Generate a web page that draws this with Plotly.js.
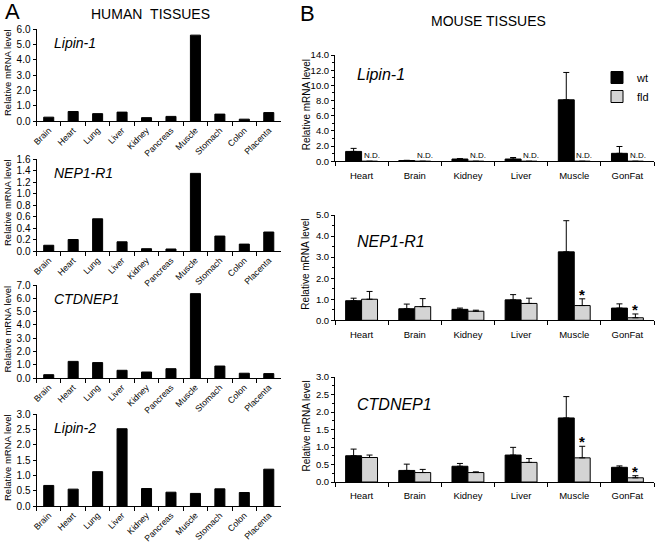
<!DOCTYPE html>
<html><head><meta charset="utf-8">
<script src="https://cdn.plot.ly/plotly-3.0.1.min.js"></script>
<style>html,body{margin:0;padding:0;background:#fff}#chart{width:656px;height:543px}</style>
</head><body><div id="chart"></div>
<script>
// ---------- DATA ----------
const humanTissues = ['Brain','Heart','Lung','Liver','Kidney','Pancreas','Muscle','Stomach','Colon','Placenta'];
const humanLipin1 = [0.25, 0.62, 0.48, 0.58, 0.22, 0.30, 5.60, 0.45, 0.12, 0.55];
const humanNep1r1 = [0.10, 0.20, 0.56, 0.16, 0.04, 0.035, 1.35, 0.26, 0.12, 0.33];
const humanCtdnep1 = [0.25, 1.25, 1.16, 0.58, 0.45, 0.70, 6.35, 0.90, 0.36, 0.33];
const humanLipin2 = [0.67, 0.55, 1.12, 2.52, 0.57, 0.45, 0.41, 0.56, 0.44, 1.20];
const humanGenes = ['Lipin-1', 'NEP1-R1', 'CTDNEP1', 'Lipin-2'];
const humanRanges = [6, 1.6, 7, 3];
const humanDticks = [1, 0.2, 1, 0.5];

const mouseTissues = ['Heart','Brain','Kidney','Liver','Muscle','GonFat'];
const mouseGenes = ['Lipin-1', 'NEP1-R1', 'CTDNEP1'];
const lipin1Wt = [1.30, 0.10, 0.30, 0.30, 8.10, 1.05];
const lipin1WtErr = [0.40, 0.03, 0.05, 0.20, 3.60, 0.90];
const lipin1Fld = [0, 0, 0, 0, 0, 0];
const lipin1FldErr = [0, 0, 0, 0, 0, 0];
const lipin1FldNote = ['N.D.','N.D.','N.D.','N.D.','N.D.','N.D.'];
const nep1Wt = [0.93, 0.55, 0.52, 0.97, 3.25, 0.58];
const nep1WtErr = [0.12, 0.22, 0.06, 0.25, 1.48, 0.20];
const nep1Fld = [1.00, 0.65, 0.43, 0.80, 0.70, 0.12];
const nep1FldErr = [0.37, 0.38, 0.05, 0.25, 0.32, 0.18];
const nep1FldNote = ['', '', '', '', '*', '*'];
const ctdWt = [0.75, 0.33, 0.45, 0.77, 1.83, 0.42];
const ctdWtErr = [0.19, 0.18, 0.08, 0.22, 0.61, 0.04];
const ctdFld = [0.70, 0.27, 0.27, 0.56, 0.69, 0.12];
const ctdFldErr = [0.07, 0.09, 0.02, 0.11, 0.33, 0.06];
const ctdFldNote = ['', '', '', '', '*', '*'];
const mouseRanges = [14, 5, 3];
const mouseDticks = [2, 1, 0.5];
const seriesNames = ['wt', 'fld'];

// ---------- LAYOUT HELPERS ----------
const W = 656, H = 543;
const px = x => x / W;
const py = y => 1 - y / H;
const FONT = 'Liberation Sans, Arial, sans-serif';

const humanX = [36.5, 281];
const humanY = [[29,121],[159,251],[285,378],[414,506]];
const mouseX = [335, 654];
const mouseY = [[55,161.3],[215,320.3],[377,482]];

const humanData = [humanLipin1, humanNep1r1, humanCtdnep1, humanLipin2];
const mouseWt = [lipin1Wt, nep1Wt, ctdWt];
const mouseWtErr = [lipin1WtErr, nep1WtErr, ctdWtErr];
const mouseFld = [lipin1Fld, nep1Fld, ctdFld];
const mouseFldErr = [lipin1FldErr, nep1FldErr, ctdFldErr];
const mouseNotes = [lipin1FldNote, nep1FldNote, ctdFldNote];

const traces = [];
const layout = {
  width: W, height: H,
  margin: {l:0, r:0, t:0, b:0},
  paper_bgcolor: '#fff', plot_bgcolor: 'rgba(0,0,0,0)',
  barmode: 'overlay',
  font: {family: FONT, color: '#000', size: 10},
  showlegend: true,
  legend: {x: px(597), y: py(63), xanchor: 'left', yanchor: 'top',
           font: {family: FONT, size: 11, color: '#000'}, bgcolor: 'rgba(0,0,0,0)',
           borderwidth: 0, tracegroupgap: 0, itemwidth: 30},
  annotations: [],
  shapes: []
};

function axName(i){ return i === 1 ? '' : String(i); }

// Human panels
humanData.forEach((vals, k) => {
  const n = k + 1;
  traces.push({
    type: 'bar', x: humanTissues, y: vals, width: 0.41,
    xaxis: 'x' + axName(n), yaxis: 'y' + axName(n),
    marker: {color: '#000', line: {color: '#000', width: 1}},
    showlegend: false, hoverinfo: 'x+y'
  });
  layout['xaxis' + axName(n)] = {
    domain: [px(humanX[0]), px(humanX[1])], anchor: 'y' + axName(n),
    type: 'category', showline: true, linecolor: '#000', linewidth: 1,
    ticks: 'outside', tickson: 'boundaries', ticklen: 4, tickcolor: '#000',
    tickangle: -45, tickfont: {family: FONT, size: 8.7, color: '#000'},
    showgrid: false, zeroline: false, fixedrange: true, automargin: false
  };
  layout['yaxis' + axName(n)] = {
    domain: [py(humanY[k][1]), py(humanY[k][0])], anchor: 'x' + axName(n),
    range: [0, humanRanges[k]], dtick: humanDticks[k], tick0: 0, tickformat: '.1f',
    showline: true, linecolor: '#000', linewidth: 1,
    ticks: 'outside', ticklen: 3, tickcolor: '#000',
    tickfont: {family: FONT, size: 10, color: '#000'},
    showgrid: false, zeroline: false, fixedrange: true, automargin: false
  };
  layout.annotations.push({
    xref: 'paper', yref: 'paper', x: px(52), y: py(humanY[k][0] + 14),
    xanchor: 'left', yanchor: 'middle', showarrow: false,
    text: '<i>' + humanGenes[k] + '</i>', font: {family: FONT, size: 14, color: '#000'}
  });
  layout.annotations.push({
    xref: 'paper', yref: 'paper', x: px(7), y: py((humanY[k][0] + humanY[k][1]) / 2 - 2),
    xanchor: 'center', yanchor: 'middle', showarrow: false, textangle: -90,
    text: 'Relative mRNA level', font: {family: FONT, size: 9.5, color: '#000'}
  });
});

// Mouse panels
mouseGenes.forEach((g, k) => {
  const n = k + 5;
  const xa = 'x' + n, ya = 'y' + n;
  const vals = [mouseWt[k], mouseFld[k]];
  const errs = [mouseWtErr[k], mouseFldErr[k]];
  vals.forEach((v, s) => {
    traces.push({
      type: 'bar', x: mouseTissues, y: v, name: seriesNames[s],
      width: 0.3, offset: s === 0 ? -0.3 : 0,
      xaxis: xa, yaxis: ya,
      marker: {color: s === 0 ? '#000' : '#d4d4d4', line: {color: '#000', width: 1}},
      error_y: {type: 'data', symmetric: false, array: errs[s],
                arrayminus: errs[s].map(() => 0), color: '#000', thickness: 1, width: 3,
                visible: true},
      showlegend: k === 0, legendgroup: seriesNames[s], hoverinfo: 'x+y'
    });
  });
  layout['xaxis' + n] = {
    domain: [px(mouseX[0]), px(mouseX[1])], anchor: ya,
    type: 'category', showline: true, linecolor: '#000', linewidth: 1,
    ticks: 'outside', tickson: 'boundaries', ticklen: 4, tickcolor: '#000',
    tickangle: 0, ticklabelstandoff: 5, tickfont: {family: FONT, size: 9.5, color: '#000'},
    showgrid: false, zeroline: false, fixedrange: true, automargin: false
  };
  layout['yaxis' + n] = {
    domain: [py(mouseY[k][1]), py(mouseY[k][0])], anchor: xa,
    range: [0, mouseRanges[k]], dtick: mouseDticks[k], tick0: 0, tickformat: '.1f',
    showline: true, linecolor: '#000', linewidth: 1,
    ticks: 'outside', ticklen: 3, tickcolor: '#000',
    minor: {dtick: mouseDticks[k] / 2, ticks: 'outside', ticklen: 2, tickcolor: '#000', showgrid: false},
    tickfont: {family: FONT, size: 9.5, color: '#000'},
    showgrid: false, zeroline: false, fixedrange: true, automargin: false
  };
  layout.annotations.push({
    xref: 'paper', yref: 'paper', x: px(355), y: py(mouseY[k][0] + 20 + (k === 0 ? 0 : 7)),
    xanchor: 'left', yanchor: 'middle', showarrow: false,
    text: '<i>' + g + '</i>', font: {family: FONT, size: 16, color: '#000'}
  });
  layout.annotations.push({
    xref: 'paper', yref: 'paper', x: px(306), y: py((mouseY[k][0] + mouseY[k][1]) / 2 - 3),
    xanchor: 'center', yanchor: 'middle', showarrow: false, textangle: -90,
    text: 'Relative mRNA level', font: {family: FONT, size: 10, color: '#000'}
  });
  mouseNotes[k].forEach((note, i) => {
    if (!note) return;
    if (note === 'N.D.') {
      layout.annotations.push({
        xref: xa, yref: ya, x: i + 0.19, y: 0, xanchor: 'center', yanchor: 'bottom',
        yshift: -1, showarrow: false, text: note,
        font: {family: FONT, size: 8, color: '#000'}
      });
    } else {
      layout.annotations.push({
        xref: xa, yref: ya, x: i + 0.15, y: mouseFld[k][i] + mouseFldErr[k][i],
        xanchor: 'center', yanchor: 'bottom', yshift: -6, showarrow: false, text: '<b>' + note + '</b>',
        font: {family: FONT, size: 15, color: '#000'}
      });
    }
  });
});

// Panel letters and headings
layout.annotations.push(
  {xref:'paper', yref:'paper', x: px(3), y: py(12), xanchor:'left', yanchor:'middle', showarrow:false,
   text:'A', font:{family: FONT, size: 22, color:'#000'}},
  {xref:'paper', yref:'paper', x: px(150), y: py(14), xanchor:'center', yanchor:'middle', showarrow:false,
   text:'HUMAN&nbsp;&nbsp;TISSUES', font:{family: FONT, size: 14, color:'#000'}},
  {xref:'paper', yref:'paper', x: px(298), y: py(13), xanchor:'left', yanchor:'middle', showarrow:false,
   text:'B', font:{family: FONT, size: 22, color:'#000'}},
  {xref:'paper', yref:'paper', x: px(488), y: py(21), xanchor:'center', yanchor:'middle', showarrow:false,
   text:'MOUSE TISSUES', font:{family: FONT, size: 14, color:'#000'}}
);

Plotly.newPlot('chart', traces, layout, {displayModeBar: false, staticPlot: true});
</script>
</body></html>
